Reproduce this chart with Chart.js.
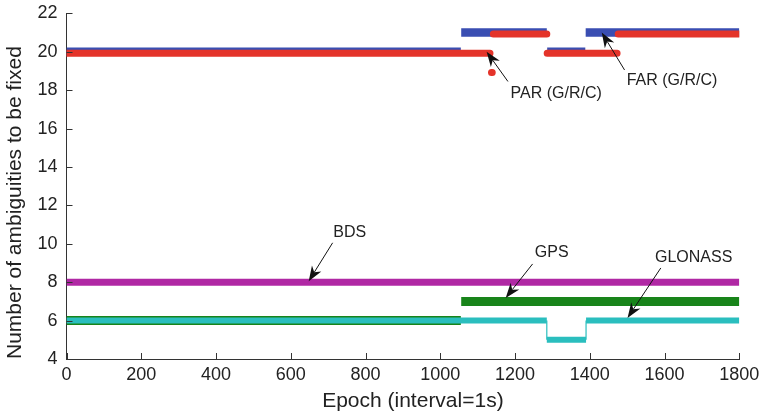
<!DOCTYPE html>
<html>
<head>
<meta charset="utf-8">
<script src="https://cdn.jsdelivr.net/npm/chart.js@4/dist/chart.umd.min.js"></script>
<style>
    body { margin: 0; background: #fff; }
    canvas { display: block; }
</style>
</head>
<body>
<canvas id="ambChart" width="764" height="417"></canvas>
<script>
// each segment: [first epoch, last epoch, number of ambiguities]
const farSegments = [[0, 1055, 20], [1056, 1285, 21], [1286, 1388, 20], [1389, 1800, 21]];
const parSegments = [[0, 1133, 20], [1137, 1139, 19], [1142, 1285, 21], [1286, 1473, 20], [1476, 1800, 21]];
const bdsSegments = [[0, 1800, 8]];
const gpsSegments = [[0, 1055, 6], [1056, 1800, 7]];

// GLONASS is one continuous stepped line
const glonassEpochs = [0, 1285, 1285, 1390, 1390, 1800];
const glonassValues = [6, 6, 5, 5, 6, 6];

const xTicks = [0, 200, 400, 600, 800, 1000, 1200, 1400, 1600, 1800];
const yTicks = [4, 6, 8, 10, 12, 14, 16, 18, 20, 22];

// arrows + labels (tip / tail / text centre in data units)
const notes = [
    { text: 'PAR (G/R/C)', tip: [1124, 20.0], tail: [1181, 18.45], at: [1310, 17.8] },
    { text: 'FAR (G/R/C)', tip: [1432, 21.0], tail: [1493, 19.05], at: [1620, 18.5] },
    { text: 'BDS', tip: [648, 8.05], tail: [712, 10.05], at: [758, 10.6] },
    { text: 'GPS', tip: [1175, 7.18], tail: [1247, 8.95], at: [1298, 9.52] },
    { text: 'GLONASS', tip: [1501, 6.14], tail: [1590, 8.74], at: [1678, 9.26] }
];

// turn segments into points, with a gap after every segment
function toPoints(segs) {
    const pts = [];
    segs.forEach(function (s) {
        pts.push({ x: s[0], y: s[2] });
        pts.push({ x: s[1], y: s[2] });
        pts.push({ x: s[1], y: null });
    });
    return pts;
}

const FONT = "'Liberation Sans', Arial, Helvetica, sans-serif";

const arrowNotes = {
    id: 'arrowNotes',
    // PAR band sits a little lower than the FAR band in the figure
    beforeDatasetDraw: function (chart, args) {
        if (args.meta.label === 'PAR (G/R/C)') {
            chart.ctx.save();
            chart.ctx.translate(0, 1.5);
        }
    },
    afterDatasetDraw: function (chart, args) {
        if (args.meta.label === 'PAR (G/R/C)') {
            chart.ctx.restore();
        }
    },
    afterDatasetsDraw: function (chart) {
        const c = chart.ctx;
        const xs = chart.scales.x, ys = chart.scales.y;
        c.save();
        c.strokeStyle = '#111';
        c.lineWidth = 1;
        notes.forEach(function (n) {
            const tx = xs.getPixelForValue(n.tip[0]), ty = ys.getPixelForValue(n.tip[1]);
            const sx = xs.getPixelForValue(n.tail[0]), sy = ys.getPixelForValue(n.tail[1]);
            const len = Math.hypot(tx - sx, ty - sy);
            const ux = (tx - sx) / len, uy = (ty - sy) / len;
            const L = 15, W = 5.5;
            c.fillStyle = '#111';
            c.beginPath();
            c.moveTo(sx, sy);
            c.lineTo(tx - ux * L * 0.7, ty - uy * L * 0.7);
            c.stroke();
            c.beginPath();
            c.moveTo(tx, ty);
            c.lineTo(tx - ux * L - uy * W, ty - uy * L + ux * W);
            c.lineTo(tx - ux * L * 0.7, ty - uy * L * 0.7);
            c.lineTo(tx - ux * L + uy * W, ty - uy * L - ux * W);
            c.closePath();
            c.fill();

            c.font = '16px ' + FONT;
            c.fillStyle = '#222';
            c.textAlign = 'center';
            c.textBaseline = 'middle';
            c.fillText(n.text, xs.getPixelForValue(n.at[0]), ys.getPixelForValue(n.at[1]));
        });
        c.restore();
    },
    // inward tick marks and the x title (sits a bit right of centre in the original)
    afterDraw: function (chart) {
        const c = chart.ctx;
        const xs = chart.scales.x, ys = chart.scales.y;
        const a = chart.chartArea;
        c.save();
        c.strokeStyle = '#333';
        c.lineWidth = 1;
        c.beginPath();
        xTicks.forEach(function (v) {
            const px = Math.round(xs.getPixelForValue(v)) + 0.5;
            c.moveTo(px, a.bottom);
            c.lineTo(px, a.bottom - 6);
        });
        yTicks.forEach(function (v) {
            const py = Math.round(ys.getPixelForValue(v)) + 0.5;
            c.moveTo(a.left, py);
            c.lineTo(a.left + 6, py);
        });
        c.stroke();

        c.font = '21px ' + FONT;
        c.fillStyle = '#222';
        c.textAlign = 'center';
        c.textBaseline = 'middle';
        c.fillText('Epoch (interval=1s)', (a.left + a.right) / 2 + 10, a.bottom + 42);
        c.restore();
    }
};

// fixed axis sizes; drop the label overhang padding so layout.padding rules
function fixX(scale) {
    scale.height = 58;
    scale.paddingLeft = 0;
    scale.paddingRight = 0;
}
function fixY(scale) {
    scale.width = 66.5;
    scale.paddingTop = 0;
    scale.paddingBottom = 0;
}

const ctx = document.getElementById('ambChart').getContext('2d');

const ambChart = new Chart(ctx, {
    type: 'scatter',
    data: {
        datasets: [{
            label: 'FAR (G/R/C)',
            data: toPoints(farSegments),
            showLine: true,
            borderColor: 'rgb(58, 78, 178)',
            borderWidth: 8.5,
            pointRadius: 0,
            order: 5
        }, {
            label: 'PAR (G/R/C)',
            data: toPoints(parSegments),
            showLine: true,
            borderColor: 'rgb(228, 52, 42)',
            borderWidth: 7,
            borderCapStyle: 'round',
            pointRadius: 0,
            order: 4
        }, {
            label: 'BDS',
            data: toPoints(bdsSegments),
            showLine: true,
            borderColor: 'rgb(176, 40, 164)',
            borderWidth: 7,
            pointRadius: 0,
            order: 3
        }, {
            label: 'GPS',
            data: toPoints(gpsSegments),
            showLine: true,
            borderColor: 'rgb(24, 132, 26)',
            borderWidth: 9,
            pointRadius: 0,
            order: 2
        }, {
            label: 'GLONASS',
            data: glonassEpochs.map(function (e, i) { return { x: e, y: glonassValues[i] }; }),
            showLine: true,
            borderColor: 'rgb(42, 190, 190)',
            borderWidth: 6,
            pointRadius: 0,
            segment: {
                borderWidth: function (s) { return s.p0.parsed.y !== s.p1.parsed.y ? 1.2 : 6; }
            },
            order: 1
        }]
    },
    options: {
        responsive: false,
        animation: false,
        layout: {
            padding: { top: 13.3, right: 24.7, bottom: 0, left: 0 }
        },
        scales: {
            x: {
                type: 'linear',
                min: 0,
                max: 1800,
                afterFit: fixX,
                afterBuildTicks: function (scale) { scale.ticks = xTicks.map(function (v) { return { value: v }; }); },
                grid: { display: false, drawTicks: false },
                border: { display: true, color: '#333', width: 1 },
                ticks: {
                    color: '#222',
                    padding: 5,
                    maxRotation: 0,
                    font: { family: FONT, size: 18 },
                    callback: function (v) { return String(v); }
                }
            },
            y: {
                type: 'linear',
                min: 4,
                max: 22,
                afterFit: fixY,
                afterBuildTicks: function (scale) { scale.ticks = yTicks.map(function (v) { return { value: v }; }); },
                grid: { display: false, drawTicks: false },
                border: { display: true, color: '#333', width: 1 },
                ticks: {
                    color: '#222',
                    padding: 9,
                    font: { family: FONT, size: 18 }
                },
                title: {
                    display: true,
                    text: 'Number of ambiguities to be fixed',
                    align: 'start',
                    color: '#222',
                    padding: { top: 3, bottom: 0 },
                    font: { family: FONT, size: 21 }
                }
            }
        },
        plugins: {
            legend: { display: false },
            tooltip: { enabled: false }
        }
    },
    plugins: [arrowNotes]
});
</script>
</body>
</html>
